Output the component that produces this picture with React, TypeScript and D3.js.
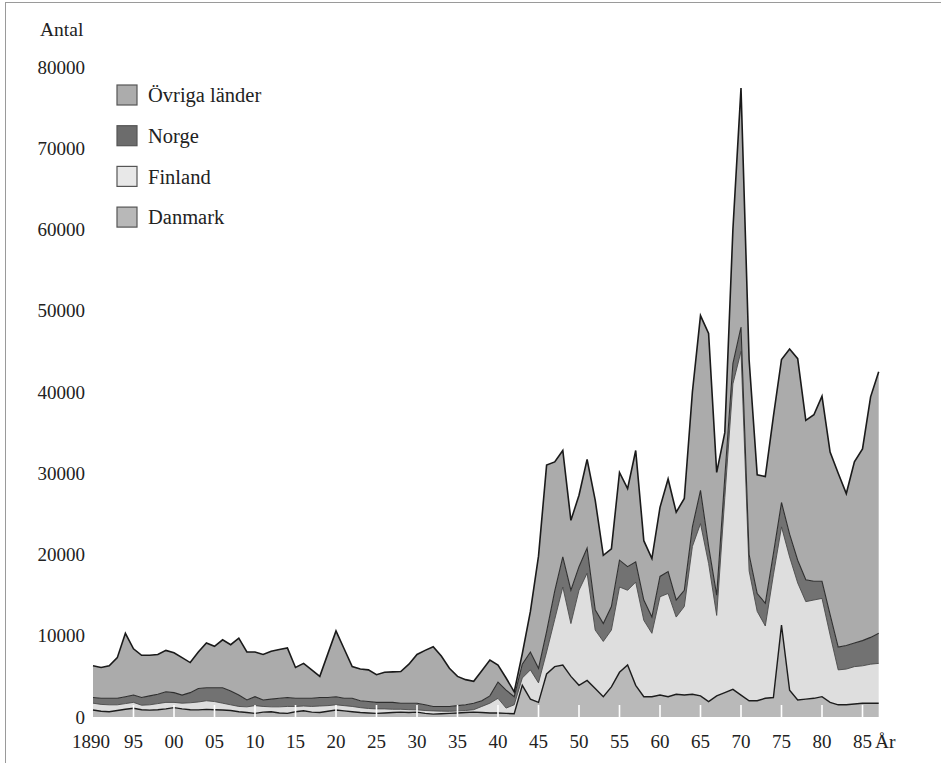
import { useMemo } from 'react';
import * as d3 from 'd3';

// Invandring till Sverige 1890–1987, antal per år och land
const years = d3.range(1890, 1988);

const danmark = [
    860, 700, 650, 800, 950, 1070, 900, 850, 900, 1000,
    1150, 1000, 900, 880, 940, 900, 860, 800, 650, 550,
    450, 600, 650, 500, 450, 650, 760, 600, 560, 700,
    860, 750, 650, 550, 500, 450, 500, 550, 600, 550,
    600, 450, 350, 400, 450, 500, 550, 600, 550, 500,
    500, 450, 400, 3900, 2200, 1800, 5300, 6200, 6400, 5000,
    3900, 4500, 3500, 2500, 3700, 5500, 6400, 3900, 2500, 2500,
    2700, 2500, 2800, 2700, 2800, 2600, 1900, 2600, 3000, 3400,
    2700, 2000, 2000, 2300, 2400, 11300, 3300, 2100, 2200, 2300,
    2500, 1800, 1500, 1500, 1600, 1700, 1700, 1700,
];

const finland = [
    840, 850, 850, 700, 700, 730, 550, 650, 750, 800,
    650, 700, 850, 970, 1060, 1000, 840, 700, 650, 700,
    950, 700, 600, 750, 850, 650, 590, 700, 790, 700,
    640, 650, 650, 600, 550, 550, 500, 400, 350, 350,
    280, 350, 400, 320, 250, 240, 250, 300, 750, 1200,
    1800, 650, 1100, 900, 3600, 2400, 2700, 5800, 9600, 6500,
    11700, 13200, 7200, 6800, 7000, 10500, 9200, 12700, 9400, 7800,
    12100, 12700, 9500, 10900, 18200, 21200, 17000, 9900, 24000, 37600,
    42300, 16000, 11000, 8900, 15100, 12100, 16400, 14400, 12000, 12100,
    12100, 8300, 4300, 4400, 4600, 4600, 4800, 4900,
];

const norge = [
    700, 750, 800, 800, 850, 900, 950, 1100, 1150, 1300,
    1200, 1000, 1250, 1650, 1600, 1700, 1900, 1700, 1400, 850,
    1100, 800, 950, 1050, 1100, 1000, 950, 1000, 1050, 1000,
    1000, 900, 1000, 850, 850, 800, 800, 850, 750, 800,
    820, 700, 550, 580, 600, 660, 700, 800, 700, 900,
    2000, 2200, 1000, 1700, 2200, 1800, 2500, 3500, 3700, 4100,
    2900, 3100, 2500, 2200, 2900, 3300, 2900, 2500, 2500, 2000,
    2500, 2700, 2100, 2000, 2400, 4100, 2100, 2500, 2500, 2500,
    3000, 2000, 2200, 2800, 2600, 3000, 2800, 2800, 2700, 2300,
    2100, 2500, 2800, 2900, 2900, 3100, 3300, 3700,
];

const ovriga = [
    3900, 3800, 4000, 5000, 7800, 5700, 5200, 5000, 4900, 5100,
    4900, 4600, 3700, 4500, 5500, 5100, 5900, 5700, 7000, 5900,
    5500, 5600, 5900, 6000, 6100, 3800, 4300, 3500, 2600, 5400,
    8100, 6100, 3900, 3900, 3900, 3400, 3700, 3750, 3900, 4800,
    6000, 6700, 7350, 6200, 4700, 3600, 3100, 2700, 3700, 4400,
    2100, 1500, 600, 1300, 5000, 13800, 20500, 15900, 13100, 8600,
    8800, 10900, 13500, 8400, 7100, 10800, 9600, 13700, 7300, 7200,
    8500, 11400, 10800, 11300, 16600, 21500, 26200, 15100, 5500, 16500,
    29400, 24000, 14600, 15600, 16900, 17600, 22800, 24800, 19600, 20500,
    22800, 20000, 21400, 18700, 22300, 23600, 29600, 32200,
];

const seriesKeys = ['danmark', 'finland', 'norge', 'ovriga'] as const;
type Key = (typeof seriesKeys)[number];

const legendItems: { key: Key; label: string }[] = [
    { key: 'ovriga', label: 'Övriga länder' },
    { key: 'norge', label: 'Norge' },
    { key: 'finland', label: 'Finland' },
    { key: 'danmark', label: 'Danmark' },
];

const yTicks = [0, 10000, 20000, 30000, 40000, 50000, 60000, 70000, 80000];
const xTicks = [1890, 1895, 1900, 1905, 1910, 1915, 1920, 1925, 1930, 1935, 1940, 1945, 1950, 1955, 1960, 1965, 1970, 1975, 1980, 1985];
const xTickLabels = ['1890', '95', '00', '05', '10', '15', '20', '25', '30', '35', '40', '45', '50', '55', '60', '65', '70', '75', '80', '85'];

const fills: Record<Key, string> = {
    danmark: '#b9b9b9',
    finland: '#dedede',
    norge: '#727272',
    ovriga: '#ababab',
};
const swatchFills: Record<Key, string> = {
    danmark: '#b8b8b8',
    finland: '#e8e8e8',
    norge: '#6c6c6c',
    ovriga: '#acacac',
};

const W = 941;
const H = 763;
const FONT = '"Liberation Serif", "DejaVu Serif", serif';

export default function App() {
    const x = useMemo(() => d3.scaleLinear().domain([1890, 1987]).range([93, 878.7]), []);
    const y = useMemo(() => d3.scaleLinear().domain([0, 80000]).range([717, 67]), []);

    const stacked = useMemo(() => {
        const table = years.map((year, i) => ({
            year,
            danmark: danmark[i],
            finland: finland[i],
            norge: norge[i],
            ovriga: ovriga[i],
        }));
        return d3.stack<(typeof table)[number], Key>().keys(seriesKeys as unknown as Key[])(table);
    }, []);

    const area = d3
        .area<d3.SeriesPoint<any>>()
        .x((d) => x(d.data.year))
        .y0((d) => y(d[0]))
        .y1((d) => y(d[1]));
    const topLine = d3
        .line<d3.SeriesPoint<any>>()
        .x((d) => x(d.data.year))
        .y((d) => y(d[1]));

    const lineStyle: Record<Key, { stroke: string; width: number }> = {
        danmark: { stroke: '#1c1c1c', width: 1.4 },
        finland: { stroke: '#4a4a4a', width: 0.9 },
        norge: { stroke: '#2e2e2e', width: 1.1 },
        ovriga: { stroke: '#1a1a1a', width: 1.6 },
    };

    return (
        <svg
            width={W}
            height={H}
            viewBox={`0 0 ${W} ${H}`}
            style={{ position: 'absolute', left: 0, top: 0, display: 'block', background: '#fff' }}
            fontFamily={FONT}
        >
            <rect x={0} y={0} width={W} height={H} fill="#fff" />
            {/* frame */}
            <line x1={5} x2={W} y1={2.5} y2={2.5} stroke="#9a9a9a" strokeWidth={1} />
            <line x1={5.5} x2={5.5} y1={2} y2={H} stroke="#9a9a9a" strokeWidth={1} />

            {stacked.map((s) => (
                <path key={s.key} d={area(s as any) ?? ''} fill={fills[s.key as Key]} stroke="none" />
            ))}
            {stacked.map((s) => (
                <path
                    key={`l-${s.key}`}
                    d={topLine(s as any) ?? ''}
                    fill="none"
                    stroke={lineStyle[s.key as Key].stroke}
                    strokeWidth={lineStyle[s.key as Key].width}
                    strokeLinejoin="miter"
                />
            ))}

            {/* white ticks on the base */}
            {xTicks.slice(1).map((t) => (
                <line key={t} x1={x(t)} x2={x(t)} y1={y(0)} y2={y(0) - 12} stroke="#fff" strokeWidth={1.6} />
            ))}

            {/* y axis labels */}
            <text x={40} y={36} fontSize={19.5} fill="#222">
                Antal
            </text>
            {yTicks.map((t) => (
                <text key={t} x={85} y={y(t)} dy="0.35em" textAnchor="end" fontSize={19} fill="#222">
                    {t}
                </text>
            ))}

            {/* x axis labels */}
            {xTicks.map((t, i) => (
                <text key={t} x={x(t) - (i === 0 ? 2 : 0)} y={748} textAnchor="middle" fontSize={19} fill="#222">
                    {xTickLabels[i]}
                </text>
            ))}
            <text x={875} y={748} fontSize={19.5} fill="#222">
                År
            </text>

            {/* legend */}
            {legendItems.map((item, i) => {
                const top = 85 + i * 40.7;
                return (
                    <g key={item.key}>
                        <rect
                            x={117}
                            y={top}
                            width={20}
                            height={20}
                            fill={swatchFills[item.key]}
                            stroke="#555"
                            strokeWidth={1.2}
                        />
                        <text x={148} y={top + 10} dy="0.35em" fontSize={20.5} fill="#222">
                            {item.label}
                        </text>
                    </g>
                );
            })}
        </svg>
    );
}
